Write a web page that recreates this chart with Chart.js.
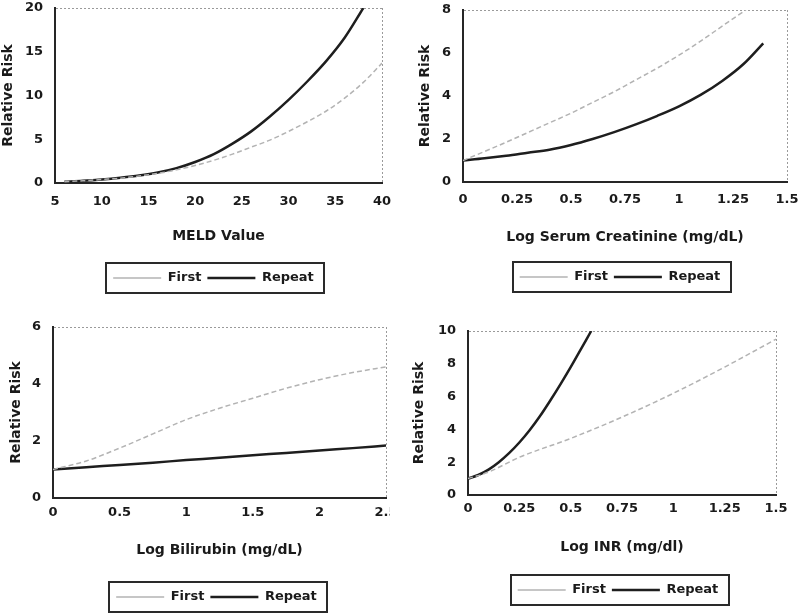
<!DOCTYPE html>
<html><head><meta charset="utf-8">
<script src="https://cdn.jsdelivr.net/npm/chart.js@4"></script>
<style>
html,body{margin:0;padding:0;background:#fff;}
body{width:800px;height:615px;position:relative;overflow:hidden;}
canvas{position:absolute;}
</style></head><body>
<canvas id="c1" width="400" height="307" style="left:0;top:0"></canvas>
<canvas id="c2" width="400" height="307" style="left:400px;top:0"></canvas>
<canvas id="c3" width="390" height="308" style="left:0;top:307px"></canvas>
<canvas id="c4" width="400" height="308" style="left:400px;top:307px"></canvas>
<script>
// ---- data ----
const seriesLabels = ['First', 'Repeat'];
const yTitle = 'Relative Risk';

const meldTitle = 'MELD Value';
const meldFirstX  = [6, 8, 10, 12, 14, 16, 18, 20, 22, 24, 26, 28, 30, 32, 34, 36, 38, 40];
const meldFirstY  = [0.15, 0.25, 0.4, 0.55, 0.8, 1.1, 1.5, 2.0, 2.6, 3.3, 4.1, 4.9, 5.9, 7.0, 8.2, 9.7, 11.5, 13.7];
const meldRepeatX = [6, 8, 10, 12, 14, 16, 18, 20, 22, 24, 26, 28, 30, 32, 34, 36, 38];
const meldRepeatY = [0.15, 0.25, 0.4, 0.6, 0.85, 1.2, 1.7, 2.4, 3.3, 4.5, 5.9, 7.6, 9.5, 11.6, 13.9, 16.6, 20];

const creatTitle = 'Log Serum Creatinine (mg/dL)';
const creatFirstX  = [0, 0.1, 0.2, 0.3, 0.4, 0.5, 0.6, 0.7, 0.8, 0.9, 1.0, 1.1, 1.2, 1.31];
const creatFirstY  = [1.0, 1.42, 1.85, 2.3, 2.75, 3.2, 3.7, 4.2, 4.75, 5.3, 5.9, 6.55, 7.25, 8.0];
const creatRepeatX = [0, 0.1, 0.2, 0.3, 0.4, 0.5, 0.6, 0.7, 0.8, 0.9, 1.0, 1.1, 1.2, 1.3, 1.39];
const creatRepeatY = [1.0, 1.1, 1.22, 1.36, 1.5, 1.72, 2.0, 2.32, 2.68, 3.08, 3.52, 4.05, 4.7, 5.5, 6.45];

const biliTitle = 'Log Bilirubin (mg/dL)';
const biliX       = [0, 0.25, 0.5, 0.75, 1.0, 1.25, 1.5, 1.75, 2.0, 2.25, 2.5];
const biliFirstY  = [1.0, 1.3, 1.75, 2.25, 2.75, 3.15, 3.5, 3.85, 4.15, 4.4, 4.6];
const biliRepeatY = [1.0, 1.08, 1.16, 1.24, 1.33, 1.41, 1.5, 1.58, 1.67, 1.75, 1.84];

const inrTitle = 'Log INR (mg/dl)';
const inrFirstX  = [0, 0.1, 0.25, 0.5, 0.75, 1.0, 1.25, 1.5];
const inrFirstY  = [1.0, 1.4, 2.3, 3.45, 4.75, 6.2, 7.8, 9.5];
const inrRepeatX = [0, 0.05, 0.1, 0.15, 0.2, 0.25, 0.3, 0.35, 0.4, 0.45, 0.5, 0.55, 0.6];
const inrRepeatY = [1.0, 1.22, 1.55, 2.0, 2.55, 3.2, 3.95, 4.8, 5.75, 6.75, 7.8, 8.9, 10.0];

// axis ranges / tick steps
const meldXAxis  = {min: 5, max: 40, step: 5};     const meldYAxis  = {min: 0, max: 20, step: 5};
const creatXAxis = {min: 0, max: 1.5, step: 0.25}; const creatYAxis = {min: 0, max: 8, step: 2};
const biliXAxis  = {min: 0, max: 2.5, step: 0.5};  const biliYAxis  = {min: 0, max: 6, step: 2};
const inrXAxis   = {min: 0, max: 1.5, step: 0.25}; const inrYAxis   = {min: 0, max: 10, step: 2};

// ---- styling / layout ----
const FONT = 'DejaVu Sans';
const TEXT = '#1a1a1a';
Chart.defaults.font.family = FONT;
Chart.defaults.font.weight = 'bold';
Chart.defaults.font.size = 13;
Chart.defaults.color = TEXT;

const LEG_PAD = 6, LEG_FONT = 13;
const LEG_H = LEG_FONT + LEG_PAD + 10;

const legendBox = {
  id: 'legendBox',
  afterLayout(chart, args, opts) {
    const lg = chart.legend;
    if (lg && opts && opts.shift) { lg.left += opts.shift; lg.right += opts.shift; }
  },
  afterDraw(chart) {
    const lg = chart.legend;
    if (!lg || !lg.legendHitBoxes || !lg.legendHitBoxes.length) return;
    const hb = lg.legendHitBoxes;
    const l = Math.min(...hb.map(h => h.left));
    const r = Math.max(...hb.map(h => h.left + h.width));
    const cy = hb[0].top + hb[0].height / 2;
    const ctx = chart.ctx;
    ctx.save();
    ctx.strokeStyle = '#2a2a2a';
    ctx.lineWidth = 2;
    ctx.strokeRect(Math.round(l - 7), Math.round(cy - 15), Math.round(r - l + 17), 30);
    ctx.restore();
  }
};

function pts(xs, ys) { return xs.map((x, i) => ({x: x, y: ys[i]})); }
function fmt(v) { return String(Math.round(v * 1000) / 1000); }

function makeChart(id, L, xAxis, yAxis, xTitle, firstPts, repeatPts) {
  const canvas = document.getElementById(id);
  const H = canvas.height, W = canvas.width;
  const legendTop = L.legendY - LEG_PAD - LEG_FONT / 2;
  const xAxisH = legendTop - L.plot.b;
  const titleLH = 14 * 1.2;
  return new Chart(canvas, {
    type: 'line',
    data: {
      datasets: [
        {label: seriesLabels[0], data: firstPts, borderColor: '#b3b3b3', backgroundColor: '#b3b3b3',
         borderWidth: 1.5, borderDash: [5, 3], pointRadius: 0, fill: false, cubicInterpolationMode: 'monotone'},
        {label: seriesLabels[1], data: repeatPts, borderColor: '#1e1e1e', backgroundColor: '#1e1e1e',
         borderWidth: 2.5, pointRadius: 0, fill: false, cubicInterpolationMode: 'monotone'}
      ]
    },
    options: {
      responsive: false,
      animation: false,
      devicePixelRatio: 1,
      layout: {padding: {left: 0, top: L.plot.t, right: W - L.plot.r, bottom: H - legendTop - LEG_H}},
      plugins: {
        tooltip: {enabled: false},
        legendBox: {shift: L.legendShift},
        legend: {
          position: 'bottom', fullSize: false,
          labels: {usePointStyle: true, pointStyle: 'line', pointStyleWidth: 48, padding: LEG_PAD,
                   color: TEXT, font: {family: FONT, size: LEG_FONT, weight: 'bold'}}
        }
      },
      scales: {
        x: {
          type: 'linear', min: xAxis.min, max: xAxis.max,
          ticks: {stepSize: xAxis.step, padding: L.tickY - L.plot.b - 7.8, color: TEXT,
                  font: {size: 13, weight: 'bold'}, maxRotation: 0, autoSkip: false, callback: fmt},
          grid: {drawTicks: false, tickLength: 0, lineWidth: 1,
                 color: c => (c.tick && c.tick.value === xAxis.max) ? '#9a9a9a' : 'rgba(0,0,0,0)'},
          border: {display: true, color: '#262626', width: 2, dash: [2, 2]},
          title: {display: true, text: xTitle, color: TEXT, font: {size: 14, weight: 'bold'},
                  padding: {top: 0, bottom: legendTop - L.titleY - titleLH / 2}},
          afterFit: s => { s.height = xAxisH; s.paddingLeft = 0; s.paddingRight = 0; }
        },
        y: {
          min: yAxis.min, max: yAxis.max,
          ticks: {stepSize: yAxis.step, padding: 12, color: TEXT, font: {size: 13, weight: 'bold'}, callback: fmt},
          grid: {drawTicks: false, tickLength: 0, lineWidth: 1,
                 color: c => (c.tick && c.tick.value === yAxis.max) ? '#9a9a9a' : 'rgba(0,0,0,0)'},
          border: {display: true, color: '#262626', width: 2, dash: [2, 2]},
          title: {display: true, text: yTitle, color: TEXT, font: {size: 14, weight: 'bold'},
                  padding: {top: Math.max(0, L.yTitleX - titleLH / 2), bottom: 0}},
          afterFit: s => { s.width = L.plot.l; s.paddingTop = 0; s.paddingBottom = 0; }
        }
      }
    },
    plugins: [legendBox]
  });
}

makeChart('c1', {plot: {l: 55, r: 382, t: 8, b: 183}, tickY: 202, titleY: 236, yTitleX: 8, legendY: 278, legendShift: -5},
  meldXAxis, meldYAxis, meldTitle, pts(meldFirstX, meldFirstY), pts(meldRepeatX, meldRepeatY));
makeChart('c2', {plot: {l: 63, r: 387, t: 10, b: 182}, tickY: 200, titleY: 237, yTitleX: 25, legendY: 277, legendShift: -5},
  creatXAxis, creatYAxis, creatTitle, pts(creatFirstX, creatFirstY), pts(creatRepeatX, creatRepeatY));
makeChart('c3', {plot: {l: 53, r: 386, t: 20, b: 191}, tickY: 206, titleY: 243, yTitleX: 16, legendY: 290, legendShift: -3},
  biliXAxis, biliYAxis, biliTitle, pts(biliX, biliFirstY), pts(biliX, biliRepeatY));
makeChart('c4', {plot: {l: 68, r: 376, t: 24, b: 188}, tickY: 202, titleY: 240, yTitleX: 19, legendY: 283, legendShift: -4},
  inrXAxis, inrYAxis, inrTitle, pts(inrFirstX, inrFirstY), pts(inrRepeatX, inrRepeatY));
</script>
</body></html>
